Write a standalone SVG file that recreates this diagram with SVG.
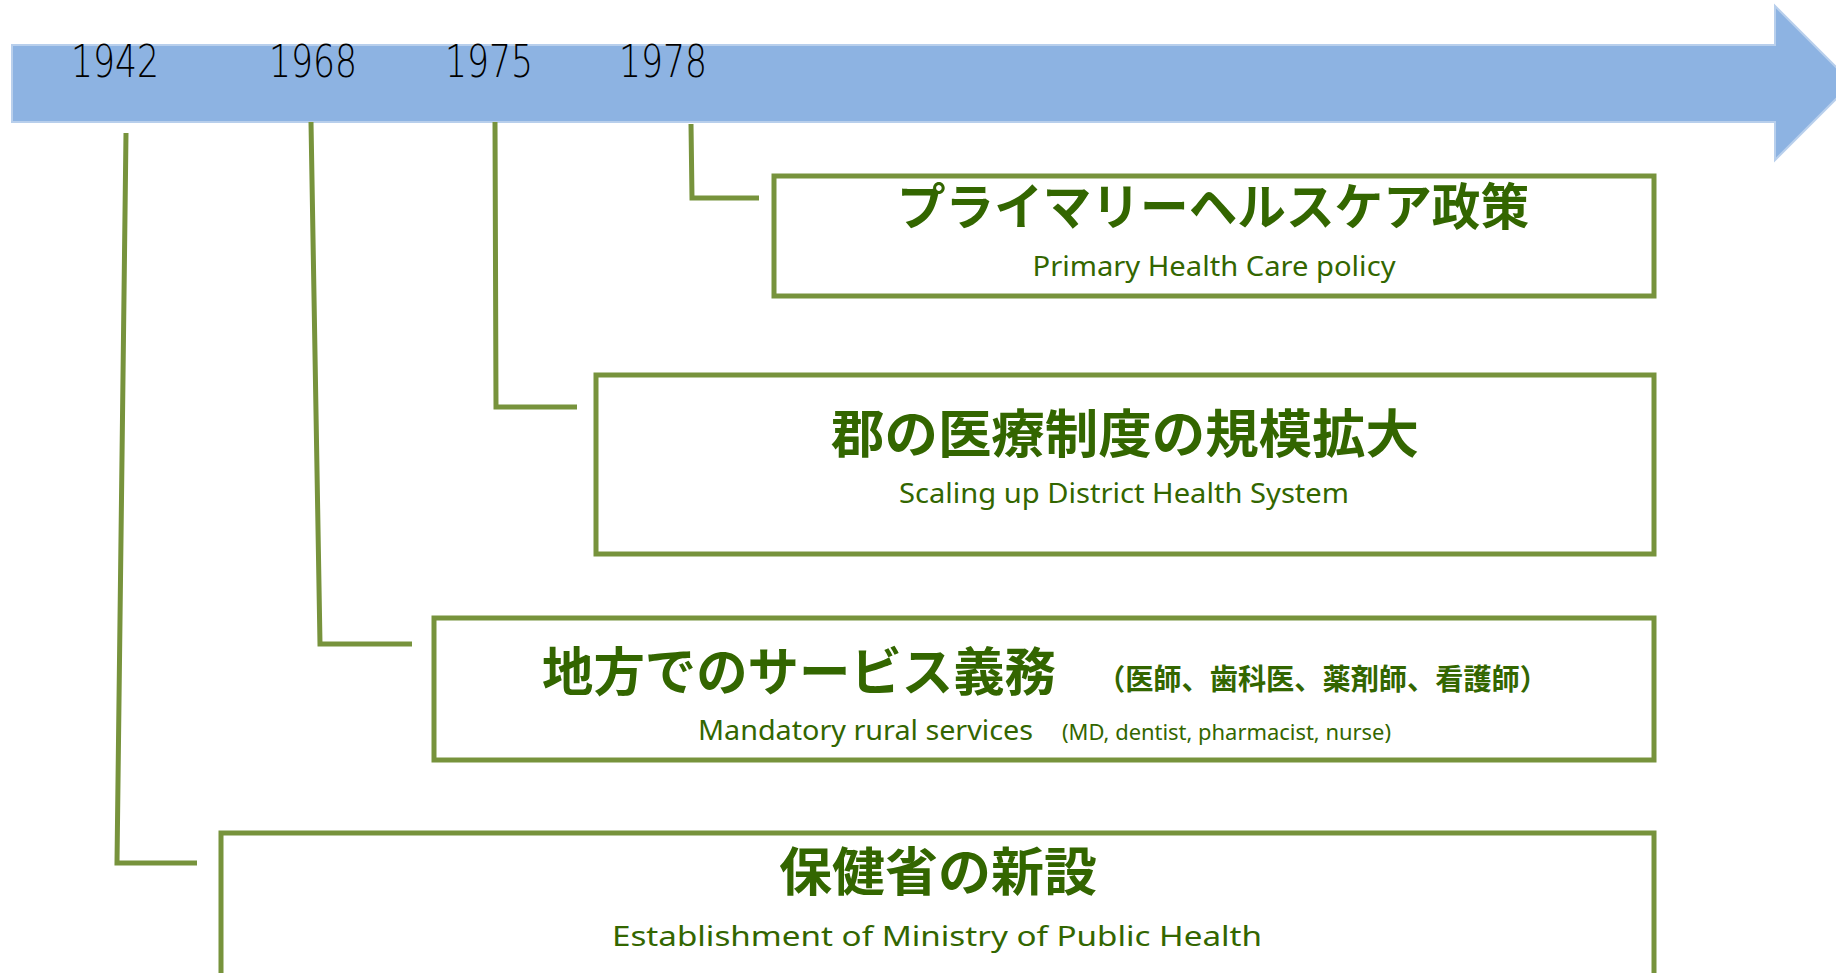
<svg xmlns="http://www.w3.org/2000/svg" width="1836" height="973" viewBox="0 0 1836 973">
<style>
.box{fill:#fff;stroke:#77933C;stroke-width:5}
.conn{fill:none;stroke:#77933C;stroke-width:5}
.yr{font-family:"DejaVu Sans","Liberation Sans",sans-serif;font-weight:200;font-size:44px;fill:#000;text-anchor:middle}
.jp{font-family:"Noto Sans CJK JP",sans-serif;font-weight:bold;fill:#336600}
.en{font-family:"Noto Sans","Liberation Sans",sans-serif;fill:#336600}
</style>
<rect width="1836" height="973" fill="#fff"/>
<g id="timeline">
<polygon points="12,45 1775,45 1775,6 1852,83 1775,160 1775,122 12,122" fill="#8DB3E2" stroke="#B8CFEC" stroke-width="2"/>
<text class="yr" x="115" y="77" textLength="88" lengthAdjust="spacingAndGlyphs">1942</text>
<text class="yr" x="313" y="77" textLength="88" lengthAdjust="spacingAndGlyphs">1968</text>
<text class="yr" x="489" y="77" textLength="88" lengthAdjust="spacingAndGlyphs">1975</text>
<text class="yr" x="663" y="77" textLength="88" lengthAdjust="spacingAndGlyphs">1978</text>
</g>
<g id="connectors">
<polyline class="conn" points="126,133 117,863 197,863"/>
<polyline class="conn" points="311,122 320,644 412,644"/>
<polyline class="conn" points="495,122 496,407 577,407"/>
<polyline class="conn" points="691,124 692,198 759,198"/>
</g>
<g id="node1978">
<rect class="box" x="774" y="176" width="880" height="120"/>
<text class="jp" x="1213" y="225" font-size="50" text-anchor="middle" textLength="632" lengthAdjust="spacingAndGlyphs">プライマリーヘルスケア政策</text>
<text class="en" x="1214" y="276" font-size="28" text-anchor="middle" textLength="363" lengthAdjust="spacingAndGlyphs">Primary Health Care policy</text>
</g>
<g id="node1975">
<rect class="box" x="596" y="375" width="1058" height="179"/>
<text class="jp" x="1125" y="453" font-size="52" text-anchor="middle" textLength="588" lengthAdjust="spacingAndGlyphs">郡の医療制度の規模拡大</text>
<text class="en" x="1124" y="503" font-size="28" text-anchor="middle" textLength="450" lengthAdjust="spacingAndGlyphs">Scaling up District Health System</text>
</g>
<g id="node1968">
<rect class="box" x="434" y="618" width="1220" height="142"/>
<text class="jp" x="542" y="691" font-size="52" textLength="514" lengthAdjust="spacingAndGlyphs">地方でのサービス義務</text>
<text class="jp" x="1097" y="690" font-size="29" textLength="451" lengthAdjust="spacingAndGlyphs">（医師、歯科医、薬剤師、看護師）</text>
<text class="en" x="698" y="740" font-size="28" textLength="335" lengthAdjust="spacingAndGlyphs">Mandatory rural services</text>
<text class="en" x="1062" y="740" font-size="21" textLength="329" lengthAdjust="spacingAndGlyphs">(MD, dentist, pharmacist, nurse)</text>
</g>
<g id="node1942">
<rect class="box" x="221" y="833" width="1433" height="160"/>
<text class="jp" x="938" y="891" font-size="52" text-anchor="middle" textLength="318" lengthAdjust="spacingAndGlyphs">保健省の新設</text>
<text class="en" x="937" y="946" font-size="28" text-anchor="middle" textLength="650" lengthAdjust="spacingAndGlyphs">Establishment of Ministry of Public Health</text>
</g>
</svg>
